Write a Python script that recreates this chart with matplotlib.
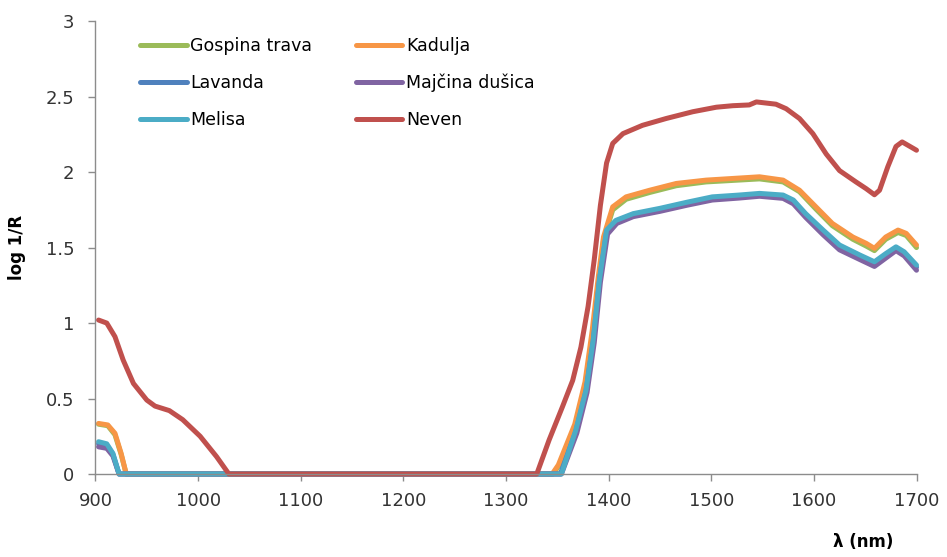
import matplotlib.pyplot as plt

# spectra (wavelength in nm, log 1/R)
gospina_x = [903, 912, 919, 925, 930, 1346, 1352, 1368, 1378, 1385, 1391, 1395, 1404, 1417, 1440, 1466,
             1495, 1521, 1547, 1570, 1586, 1602, 1618, 1638, 1651, 1659, 1670, 1682, 1690, 1700]
gospina_y = [0.33, 0.32, 0.26, 0.13, 0.0, 0.0, 0.06, 0.32, 0.6, 0.94, 1.3, 1.55, 1.75, 1.82, 1.865, 1.91,
             1.935, 1.945, 1.955, 1.935, 1.87, 1.755, 1.645, 1.555, 1.51, 1.48, 1.555, 1.6, 1.58, 1.5]

kadulja_x = [903, 912, 919, 925, 930, 1345, 1351, 1367, 1377, 1384, 1390, 1395, 1404, 1417, 1440, 1466,
             1495, 1521, 1547, 1570, 1586, 1602, 1618, 1638, 1651, 1659, 1670, 1682, 1690, 1700]
kadulja_y = [0.335, 0.325, 0.27, 0.137, 0.0, 0.0, 0.06, 0.33, 0.61, 0.95, 1.31, 1.57, 1.77, 1.836, 1.88, 1.925,
             1.947, 1.958, 1.969, 1.947, 1.88, 1.77, 1.66, 1.57, 1.528, 1.495, 1.57, 1.616, 1.594, 1.517]

lavanda_x = [903, 911, 917, 923, 1353, 1368, 1378, 1385, 1391, 1398, 1407, 1424, 1450, 1476, 1501,
             1527, 1547, 1570, 1580, 1592, 1609, 1625, 1645, 1659, 1670, 1680, 1688, 1700]
lavanda_y = [0.2, 0.19, 0.13, 0.0, 0.0, 0.28, 0.55, 0.88, 1.28, 1.6, 1.67, 1.715, 1.75, 1.79, 1.826,
             1.838, 1.85, 1.838, 1.805, 1.715, 1.605, 1.505, 1.44, 1.395, 1.45, 1.495, 1.46, 1.37]

majcina_x = [903, 911, 917, 923, 1354, 1369, 1379, 1386, 1392, 1399, 1408, 1424, 1450, 1476, 1501,
             1527, 1547, 1570, 1580, 1592, 1609, 1625, 1645, 1659, 1670, 1680, 1688, 1700]
majcina_y = [0.18, 0.17, 0.12, 0.0, 0.0, 0.27, 0.54, 0.87, 1.27, 1.59, 1.66, 1.705, 1.74, 1.78, 1.815,
             1.828, 1.84, 1.826, 1.79, 1.7, 1.585, 1.485, 1.42, 1.375, 1.43, 1.48, 1.445, 1.35]

melisa_x = [903, 911, 917, 923, 1354, 1368, 1378, 1385, 1391, 1398, 1407, 1424, 1450, 1476, 1501,
            1527, 1547, 1570, 1580, 1592, 1609, 1625, 1645, 1659, 1670, 1680, 1688, 1700]
melisa_y = [0.214, 0.2, 0.137, 0.0, 0.0, 0.29, 0.556, 0.887, 1.285, 1.616, 1.68, 1.725, 1.76, 1.8, 1.836,
            1.848, 1.859, 1.848, 1.815, 1.725, 1.616, 1.517, 1.45, 1.406, 1.46, 1.505, 1.472, 1.384]

neven_x = [903, 911, 919, 927, 937, 950, 958, 972, 985, 1002, 1018, 1030, 1330, 1342, 1355, 1365, 1373,
           1380, 1386, 1392, 1398, 1404, 1414, 1433, 1456, 1482, 1505, 1521, 1537, 1544, 1563, 1573,
           1586, 1599, 1612, 1625, 1641, 1651, 1659, 1664, 1672, 1680, 1686, 1700]
neven_y = [1.02, 1.0, 0.91, 0.755, 0.6, 0.49, 0.45, 0.42, 0.36, 0.25, 0.115, 0.0, 0.0, 0.225, 0.445, 0.62, 0.84,
           1.11, 1.42, 1.78, 2.06, 2.19, 2.255, 2.31, 2.355, 2.4, 2.43, 2.44, 2.445, 2.465, 2.45, 2.42,
           2.355, 2.255, 2.12, 2.01, 1.935, 1.89, 1.85, 1.88, 2.035, 2.17, 2.2, 2.145]

names = ['Gospina trava', 'Kadulja', 'Lavanda', 'Majčina dušica', 'Melisa', 'Neven']
colors = ['#9BBB59', '#F79646', '#4F81BD', '#8064A2', '#4BACC6', '#C0504D']

xticks = [900, 1000, 1100, 1200, 1300, 1400, 1500, 1600, 1700]
yticks = [0, 0.5, 1, 1.5, 2, 2.5, 3]
ytick_labels = ['0', '0.5', '1', '1.5', '2', '2.5', '3']

series = [(gospina_x, gospina_y), (kadulja_x, kadulja_y), (lavanda_x, lavanda_y),
          (majcina_x, majcina_y), (melisa_x, melisa_y), (neven_x, neven_y)]

fig = plt.figure(figsize=(9.47, 5.57), dpi=100)
ax = fig.add_axes([0.1008, 0.149, 0.867, 0.813])

lines = []
for (x, y), name, c in zip(series, names, colors):
    ln, = ax.plot(x, y, color=c, lw=3.6, label=name, clip_on=False, solid_capstyle='round')
    lines.append(ln)

ax.set_xlim(900, 1700)
ax.set_ylim(0, 3)
ax.set_xticks(xticks)
ax.set_yticks(yticks)
ax.set_yticklabels(ytick_labels)

for side in ['top', 'right']:
    ax.spines[side].set_visible(False)
for side in ['left', 'bottom']:
    ax.spines[side].set_color('#8c8c8c')
    ax.spines[side].set_linewidth(1.0)
ax.tick_params(axis='both', direction='out', length=5, width=1, color='#8c8c8c',
               labelsize=13, labelcolor='#333333')
ax.tick_params(axis='x', pad=8)
ax.tick_params(axis='y', pad=10)

ax.set_ylabel('log 1/R', fontsize=12, fontweight='bold')
ax.yaxis.set_label_coords(-0.085, 0.5)
ax.set_xlabel('λ (nm)', fontsize=12, fontweight='bold')
ax.xaxis.set_label_coords(0.935, -0.13)

# legend fills by column, so reorder to get the row layout of the reference
order = [0, 2, 4, 1, 3, 5]
ax.legend([lines[i] for i in order], [names[i] for i in order],
          ncol=2, loc='upper left', bbox_to_anchor=(0.035, 1.0), frameon=False,
          fontsize=12.5, handlelength=2.7, handletextpad=0.2, labelspacing=1.1,
          columnspacing=2.5)

fig.savefig('out.png', dpi=100)
